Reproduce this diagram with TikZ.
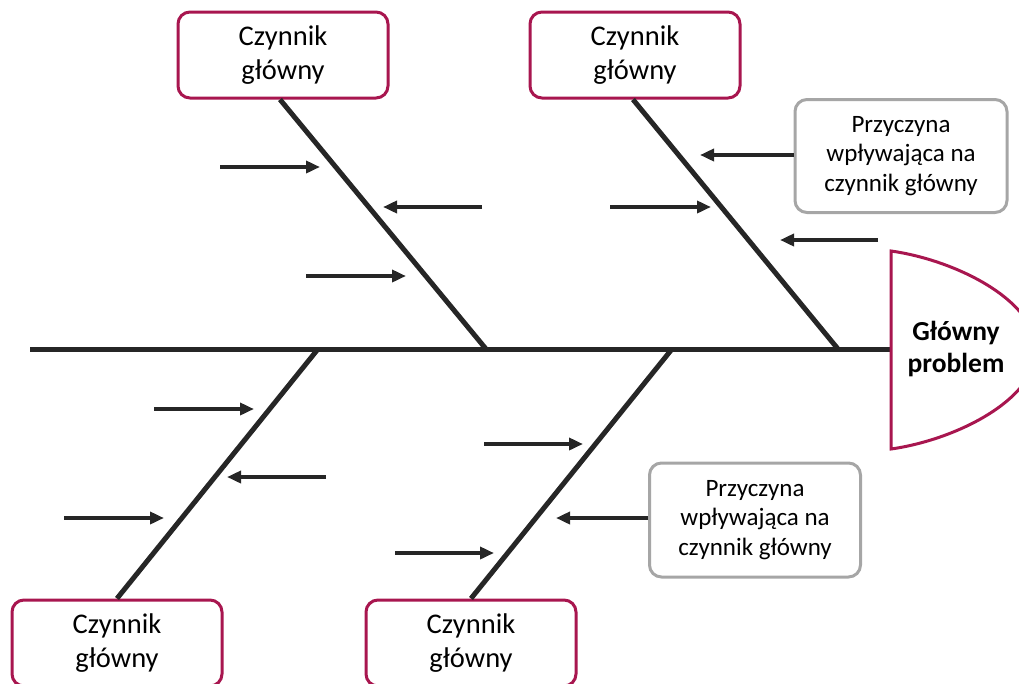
\documentclass[tikz,border=0pt]{standalone}
\usepackage{fontspec}
\setmainfont{Carlito}
\usetikzlibrary{arrows.meta}
\definecolor{mag}{HTML}{A8164F}
\definecolor{gbord}{HTML}{A6A6A6}
\definecolor{ink}{HTML}{262626}
\tikzset{
  mainbox/.style={draw=mag, line width=3pt, rounded corners=12pt, minimum width=210pt, minimum height=86pt, align=center, inner sep=0pt, font=\fontsize{28.5}{34}\selectfont, text=black, fill=white},
  causebox/.style={draw=gbord, line width=3pt, rounded corners=12pt, minimum width=212pt, minimum height=113pt, align=center, inner sep=0pt, font=\fontsize{25}{29.5}\selectfont, text=black, fill=white},
  bone/.style={draw=ink, line width=5pt},
  arr/.style={draw=ink, line width=4pt, -{Triangle[length=14pt,width=12pt]}},
}
\begin{document}
\begin{tikzpicture}[x=1pt,y=-1pt]
\useasboundingbox (0,0) rectangle (1019,683);
\clip (0,0) rectangle (1019,683);
% spine and head
\coordinate (tail) at (30,349);
\coordinate (hl) at (891,349);
\draw[bone] (tail) -- (hl);
\draw[draw=mag, line width=3pt, line join=miter]
  (891,251) .. controls (955,260) and (1036,300) .. (1036,350)
  .. controls (1036,400) and (955,440) .. (891,449) -- cycle;
\node[font=\bfseries\fontsize{27.5}{32}\selectfont, align=center] (head) at (956,349) {Główny\\problem};
% main factor boxes
\node[mainbox] (b1) at (283,55) {Czynnik\\główny};
\node[mainbox] (b2) at (635,55) {Czynnik\\główny};
\node[mainbox] (b3) at (117,643) {Czynnik\\główny};
\node[mainbox] (b4) at (471,643) {Czynnik\\główny};
% cause boxes
\node[causebox] (g1) at (901,156) {Przyczyna\\wpływająca na\\czynnik główny};
\node[causebox, minimum width=211pt, minimum height=114pt] (g2) at (755,520) {Przyczyna\\wpływająca na\\czynnik główny};
% bones
\coordinate (s1) at (486,349);
\coordinate (s2) at (838,349);
\coordinate (s3) at (318,349);
\coordinate (s4) at (672,349);
\draw[bone] (b1.south) ++(-3,0) coordinate (b1s) -- (s1);
\draw[bone] (b2.south) ++(-2,0) coordinate (b2s) -- (s2);
\draw[bone] (s3) -- (b3.north);
\draw[bone] (s4) -- (b4.north);
% arrows on bone 1
\coordinate (a1s) at (220,167); \coordinate (a1e) at (320,167);
\coordinate (a2s) at (482,207); \coordinate (a2e) at (383,207);
\coordinate (a3s) at (306,276); \coordinate (a3e) at (406,276);
\draw[arr] (a1s) -- (a1e);
\draw[arr] (a2s) -- (a2e);
\draw[arr] (a3s) -- (a3e);
% arrows on bone 2
\coordinate (c1e) at (700,155);
\coordinate (c2s) at (610,207); \coordinate (c2e) at (711,207);
\coordinate (c3s) at (878,240); \coordinate (c3e) at (780,240);
\draw[arr] (g1.west |- c1e) -- (c1e);
\draw[arr] (c2s) -- (c2e);
\draw[arr] (c3s) -- (c3e);
% arrows on bone 3
\coordinate (d1s) at (154,409); \coordinate (d1e) at (254,409);
\coordinate (d2s) at (326,477); \coordinate (d2e) at (227,477);
\coordinate (d3s) at (64,518); \coordinate (d3e) at (164,518);
\draw[arr] (d1s) -- (d1e);
\draw[arr] (d2s) -- (d2e);
\draw[arr] (d3s) -- (d3e);
% arrows on bone 4
\coordinate (e1s) at (484,444); \coordinate (e1e) at (583,444);
\coordinate (e2e) at (556,518);
\coordinate (e3s) at (395,553); \coordinate (e3e) at (494,553);
\draw[arr] (e1s) -- (e1e);
\draw[arr] (g2.west |- e2e) -- (e2e);
\draw[arr] (e3s) -- (e3e);
\end{tikzpicture}
\end{document}
